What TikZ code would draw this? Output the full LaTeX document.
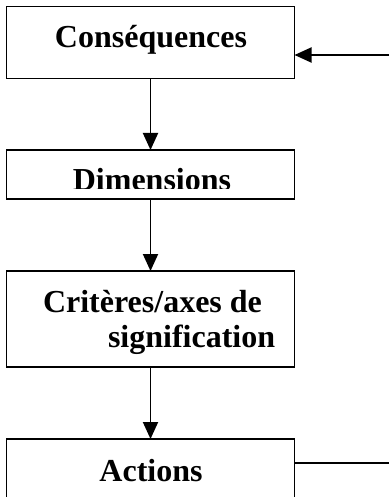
\documentclass[tikz,border=0pt]{standalone}
\usepackage{fontspec}
\setmainfont{Liberation Serif}
\usetikzlibrary{arrows.meta}
\begin{document}
\begin{tikzpicture}[x=1pt,y=-1pt,
  box/.style={draw=black,line width=1.9pt,minimum width=288pt,inner sep=0pt,outer sep=0pt},
  lbl/.style={inner sep=0pt,outer sep=0pt,font=\bfseries\fontsize{32}{35}\selectfont},
  arr/.style={line width=1.9pt,-{Triangle[length=17pt,width=15pt]}},
  ln/.style={line width=1.9pt}]
\useasboundingbox (0,0) rectangle (389,497);
\clip (0,0) rectangle (389,497);
\node[box,minimum height=72pt] (b1) at (150.5,42.5) {};
\node[box,minimum height=49pt] (b2) at (150.5,174.5) {};
\node[box,minimum height=96pt] (b3) at (150.5,319) {};
\node[box,minimum height=80pt] (b4) at (150.5,479) {};
\node[lbl,anchor=base] (t1) at (151,48) {Conséquences};
\begin{scope}
\clip (0,0) rectangle (389,188.5);
\node[lbl,anchor=base] (t2) at (152,190) {Dimensions};
\end{scope}
\node[lbl,anchor=base west] (t3a) at (43,312) {Critères/axes de};
\node[lbl,anchor=base west] (t3b) at (108,347) {signification};
\node[lbl,anchor=base] (t4) at (151,481.5) {Actions};
\coordinate (in) at (389,55);
\coordinate (out) at (389,463);
\draw[arr] (in) -- (in -| b1.east);
\draw[arr] (b1.south) -- (b2.north);
\draw[arr] (b2.south) -- (b3.north);
\draw[arr] (b3.south) -- (b4.north);
\draw[ln] (out -| b4.east) -- (out);
\end{tikzpicture}
\end{document}
